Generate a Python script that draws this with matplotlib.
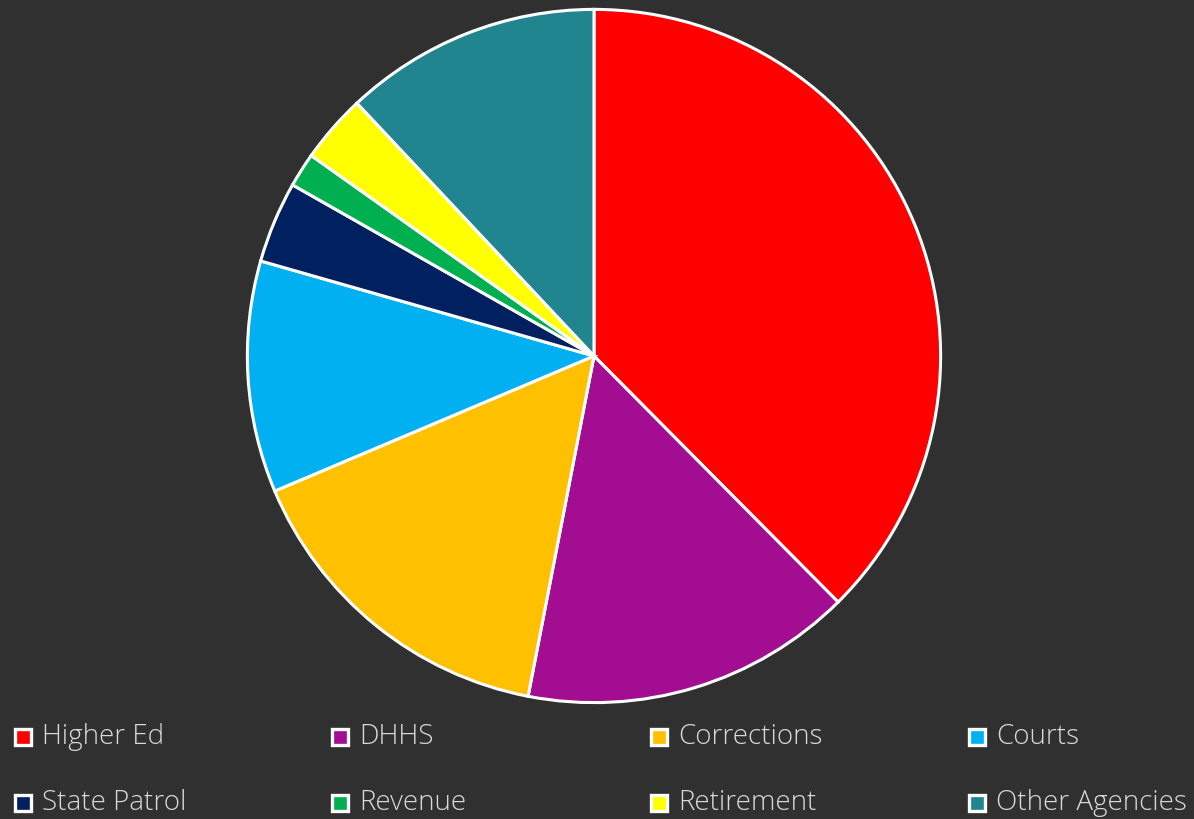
import matplotlib.pyplot as plt
from matplotlib.patches import Rectangle

labels = ["Higher Ed", "DHHS", "Corrections", "Courts",
          "State Patrol", "Revenue", "Retirement", "Other Agencies"]
shares = [37.6, 15.5, 15.6, 10.8, 3.8, 1.6, 3.2, 12.0]
colors = ["#FF0000", "#A20D91", "#FFC000", "#00B0F0",
          "#002060", "#00B050", "#FFFF00", "#218590"]

W, H = 1194, 819
bg = "#303030"

fig = plt.figure(figsize=(W / 100, H / 100), dpi=100, facecolor=bg)

# pie: center (594, 355) px, radius 347 px
cx, cy, r = 594, 356, 348
ax = fig.add_axes([(cx - r) / W, (H - cy - r) / H, 2 * r / W, 2 * r / H])
ax.set_facecolor(bg)
ax.pie(shares, colors=colors, startangle=90, counterclock=False,
       wedgeprops={"edgecolor": "white", "linewidth": 2.2})
ax.set_xlim(-1.004, 1.004)
ax.set_ylim(-1.004, 1.004)
ax.set_aspect("equal")
ax.axis("off")

# legend, 4 columns x 2 rows
col_x = [15, 332, 651, 969]
row_y = [737, 803]
sq = 16
for i, (lab, col) in enumerate(zip(labels, colors)):
    x = col_x[i % 4]
    y = row_y[i // 4]
    fig.add_artist(Rectangle((x / W, (H - y - sq / 2) / H), sq / W, sq / H,
                             transform=fig.transFigure, facecolor=col,
                             edgecolor="white", linewidth=2.4))
    fig.text((x + 27) / W, (H - y) / H, lab, color="#D9D9D9", fontsize=20,
             va="center", ha="left", family="Open Sans", fontweight="light")

fig.savefig("out.png", dpi=100, facecolor=bg)
